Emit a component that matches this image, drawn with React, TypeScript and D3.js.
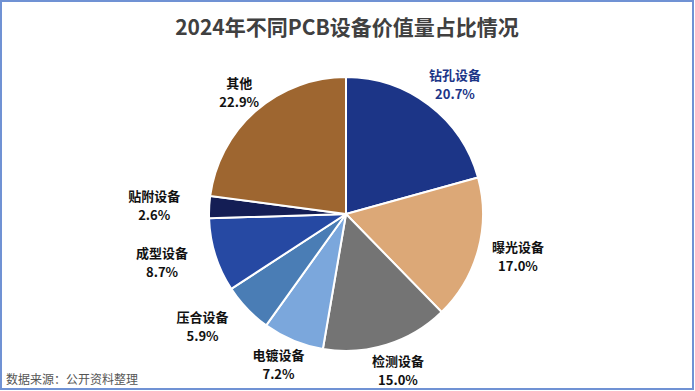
import React, { useEffect, useRef } from "react";
import * as d3 from "d3";

const categories = ["钻孔设备", "曝光设备", "检测设备", "电镀设备", "压合设备", "成型设备", "贴附设备", "其他"];
const shares = [20.7, 17.0, 15.0, 7.2, 5.9, 8.7, 2.6, 22.9];
const colors = ["#1c3587", "#dca877", "#747474", "#7ba7dc", "#4a7db5", "#2649a3", "#141e55", "#9e6630"];
const labelColors = ["#1c3587", "#111", "#111", "#111", "#111", "#111", "#111", "#111"];

const W = 695;
const H = 391;

const App = () => {
  const ref = useRef<SVGSVGElement>(null);

  useEffect(() => {
    const svg = d3.select(ref.current);
    svg.selectAll("*").remove();

    const data = categories.map((name, i) => ({ name, value: shares[i], i }));

    svg.append("rect")
      .attr("x", 1).attr("y", 1)
      .attr("width", W - 3).attr("height", H - 3)
      .attr("fill", "#fff")
      .attr("stroke", "#7092d4")
      .attr("stroke-width", 2);

    svg.append("text")
      .attr("x", 347).attr("y", 35)
      .attr("text-anchor", "middle")
      .attr("font-family", "'Noto Sans CJK SC', sans-serif")
      .attr("font-weight", "bold")
      .attr("font-size", 21)
      .attr("fill", "#404040")
      .text("2024年不同PCB设备价值量占比情况");

    const cx = 346, cy = 214, r = 137;
    const pie = d3.pie<any>().value((d) => d.value).sort(null);
    const arc = d3.arc<any>().innerRadius(0).outerRadius(r);
    const arcs = pie(data);

    const g = svg.append("g").attr("transform", `translate(${cx},${cy})`);
    g.selectAll("path")
      .data(arcs)
      .join("path")
      .attr("d", arc)
      .attr("fill", (d) => colors[d.data.i])
      .attr("stroke", "#fff")
      .attr("stroke-width", 2);

    // labels sit just outside the rim, pushed out by half their size
    const lbl = g.selectAll("g.lbl")
      .data(arcs)
      .join("g")
      .attr("class", "lbl")
      .attr("transform", (d) => {
        const a = (d.startAngle + d.endAngle) / 2;
        const s = Math.sin(a), c = Math.cos(a);
        const ar = r + 12;
        const hw = d.data.name.length * 6.5;
        const extra = s < -0.7 ? 17 : 0;
        const x = s * ar + s * hw - extra + (s > 0.5 ? 3 : 0);
        const y = -c * ar - c * 15 + (c > 0.5 ? 2 : 0);
        return `translate(${x},${y})`;
      })
      .attr("font-family", "'Noto Sans CJK SC', sans-serif")
      .attr("font-weight", "bold")
      .attr("font-size", 13)
      .attr("text-anchor", "middle")
      .attr("fill", (d) => labelColors[d.data.i]);

    lbl.append("text").attr("y", -5).text((d) => d.data.name);
    lbl.append("text").attr("y", 14).text((d) => d.data.value.toFixed(1) + "%");

    svg.append("text")
      .attr("x", 6).attr("y", 384)
      .attr("font-family", "'Noto Sans CJK SC', sans-serif")
      .attr("font-size", 12)
      .attr("fill", "#555")
      .text("数据来源：公开资料整理");
  }, []);

  return (
    <svg ref={ref} width={W} height={H} style={{ position: "absolute", left: 0, top: 0 }}></svg>
  );
};

export default App;
